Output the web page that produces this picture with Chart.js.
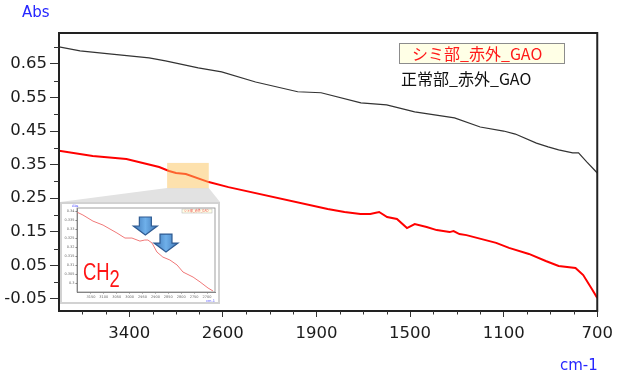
<!DOCTYPE html>
<html>
<head>
<meta charset="utf-8">
<script src="https://cdn.jsdelivr.net/npm/chart.js@4/dist/chart.umd.min.js"></script>
<style>
  html, body { margin: 0; padding: 0; background: #fff; }
  #wrap { position: relative; width: 620px; height: 372px; overflow: hidden;
          font-family: "DejaVu Sans", Verdana, sans-serif; }
  #main { position: absolute; left: 0; top: 0; }
  .unit { position: absolute; color: #2626ff; font-size: 15px; white-space: nowrap; line-height: 18px; }
  .leg { position: absolute; font-family: "Noto Sans CJK JP", sans-serif; font-size: 16px;
         white-space: nowrap; box-sizing: border-box; }
  #leg1 { left: 399px; top: 43px; width: 166px; height: 21px; line-height: 19px;
          padding-left: 12px; color: #ff1a1a; background: #ffffe6; border: 1px solid #8c8c8c; }
  #leg2 { left: 401px; top: 68px; line-height: 20px; color: #111; }
  #insetBox { position: absolute; left: 60px; top: 202px; width: 160px; height: 102px;
              box-sizing: border-box; border: 2px solid #d2d2d2; background: #fff; }
  #inset { position: absolute; left: 0; top: 0; filter: blur(0.45px); }
  #ch2 { position: absolute; left: 83px; top: 258px; color: #ff1414;
         font-family: "Liberation Sans", Arial, sans-serif; font-size: 23px; line-height: 28px;
         transform: scaleX(0.8); transform-origin: left top; white-space: nowrap; }
  #ch2 sub { font-size: 23px; vertical-align: -7px; line-height: 0; }
</style>
</head>
<body>
<div id="wrap">
  <canvas id="main" width="620" height="372"></canvas>
  <div class="unit" style="left:22px; top:3px;">Abs</div>
  <div class="unit" style="left:560px; top:356px;">cm-1</div>
  <div id="leg1" class="leg"></div>
  <div id="leg2" class="leg"></div>
  <div id="insetBox"><canvas id="inset" width="156" height="98"></canvas></div>
  <div id="ch2">CH<sub>2</sub></div>
</div>
<script>
// ---- spectra (wavenumber in cm-1, absorbance) ----
const normalLabel = '正常部_赤外_GAO';
const normalWn  = [4000, 3820, 3570, 3230, 3090, 2810, 2610, 2320, 1980, 1880, 1710, 1600, 1480,
                   1310, 1200, 1100, 1050, 960, 910, 865, 805, 780, 745, 720, 700];
const normalAbs = [0.701, 0.689, 0.680, 0.668, 0.659, 0.638, 0.626, 0.596, 0.567, 0.564, 0.534, 0.528, 0.507,
                   0.489, 0.462, 0.450, 0.441, 0.414, 0.403, 0.394, 0.385, 0.385, 0.358, 0.340, 0.325];

const stainLabel = 'シミ部_赤外_GAO';
const stainWn  = [4000, 3712, 3424, 3144, 3060, 3000, 2916, 2720, 2552, 1852, 1780, 1712, 1670, 1632,
                  1598, 1556, 1513, 1480, 1429, 1386, 1331, 1314, 1289, 1259, 1132, 1077, 992, 920,
                  865, 793, 760, 721, 700];
const stainAbs = [0.391, 0.376, 0.367, 0.343, 0.331, 0.325, 0.322, 0.298, 0.283, 0.218, 0.209, 0.203, 0.203, 0.209,
                  0.194, 0.188, 0.161, 0.173, 0.164, 0.155, 0.149, 0.152, 0.143, 0.140, 0.117, 0.102, 0.084, 0.063,
                  0.048, 0.042, 0.021, -0.023, -0.047];

// enlarged C-H stretching region of the stained spot
const detailWn  = [3204, 3181, 3142, 3103, 3049, 3018, 2991, 2960, 2941, 2929, 2913, 2894, 2871, 2844,
                   2816, 2793, 2754, 2727, 2696, 2677];
const detailAbs = [0.3394, 0.3378, 0.3344, 0.3322, 0.3278, 0.3250, 0.3250, 0.3233, 0.3239, 0.3239, 0.3222,
                   0.3172, 0.3144, 0.3128, 0.3100, 0.3061, 0.3033, 0.3006, 0.2972, 0.2956];

// CH2 band markers (wavenumber, absorbance at arrow tip)
const bandWn  = [2939, 2859];
const bandAbs = [0.3267, 0.3172];

// ---- tick labels ----
const xMajorWn  = [3400, 2600, 1900, 1500, 1100, 700];
const yMajor    = [-0.05, 0.05, 0.15, 0.25, 0.35, 0.45, 0.55, 0.65];
const yMinor    = [0, 0.1, 0.2, 0.3, 0.4, 0.5, 0.6, 0.7];
const detailXTicks = [3150, 3100, 3050, 3000, 2950, 2900, 2850, 2800, 2750, 2700];
const detailYTicks = [0.3, 0.305, 0.31, 0.315, 0.32, 0.325, 0.33, 0.335, 0.34];

// zoomed window marked on the main spectrum
const zoomWn  = [3076, 2720];
const zoomAbs = [0.355, 0.280];

// Wavenumber axis: the region above 2000 cm-1 is compressed by a factor of 2.
const BREAK = 2000;
const toAxis   = w => w > BREAK ? BREAK + (w - BREAK) / 2 : w;
const fromAxis = u => u > BREAK ? BREAK + (u - BREAK) * 2 : u;

const pts = (xs, ys, f) => xs.map((x, i) => ({ x: f ? f(x) : x, y: ys[i] }));

document.getElementById('leg1').textContent = stainLabel;
document.getElementById('leg2').textContent = normalLabel;

const tickFont = { family: '"DejaVu Sans", Verdana, sans-serif', size: 16.5 };
const INK = '#1c1c1c';

const decor = {
  id: 'decor',
  beforeDatasetsDraw(chart) {
    const { ctx, scales: { x, y } } = chart;
    const x0 = x.getPixelForValue(toAxis(zoomWn[0]));
    const x1 = x.getPixelForValue(toAxis(zoomWn[1]));
    const yb = y.getPixelForValue(zoomAbs[1]);
    const box = document.getElementById('insetBox');
    const bl = box.offsetLeft, br = box.offsetLeft + box.offsetWidth, bt = box.offsetTop;
    ctx.save();
    ctx.fillStyle = '#e2e2e2';
    ctx.beginPath();
    ctx.moveTo(x0, yb); ctx.lineTo(x1, yb); ctx.lineTo(br, bt); ctx.lineTo(bl, bt);
    ctx.closePath(); ctx.fill();
    ctx.restore();
  },
  afterDatasetsDraw(chart) {
    const { ctx, chartArea: a, scales: { x, y } } = chart;
    ctx.save();
    // highlighted window
    const x0 = x.getPixelForValue(toAxis(zoomWn[0]));
    const x1 = x.getPixelForValue(toAxis(zoomWn[1]));
    const y0 = y.getPixelForValue(zoomAbs[0]);
    const y1 = y.getPixelForValue(zoomAbs[1]);
    ctx.fillStyle = 'rgba(252, 196, 92, 0.5)';
    ctx.fillRect(x0, y0, x1 - x0, y1 - y0);
    // plot frame
    ctx.strokeStyle = '#222';
    ctx.lineWidth = 2;
    ctx.strokeRect(a.left, a.top, a.right - a.left, a.bottom - a.top);
    // minor ticks
    ctx.lineWidth = 1;
    ctx.strokeStyle = '#333';
    ctx.beginPath();
    const majorU = xMajorWn.map(toAxis);
    for (let u = 800; u < 3000; u += 100) {
      if (majorU.includes(u)) continue;
      const px = Math.round(x.getPixelForValue(u)) + 0.5;
      ctx.moveTo(px, a.bottom); ctx.lineTo(px, a.bottom + 3.5);
    }
    yMinor.forEach(v => {
      const py = Math.round(y.getPixelForValue(v)) + 0.5;
      ctx.moveTo(a.left - 5, py); ctx.lineTo(a.left, py);
    });
    ctx.stroke();
    ctx.restore();
  }
};

new Chart(document.getElementById('main'), {
  type: 'line',
  data: {
    datasets: [
      { label: normalLabel, data: pts(normalWn, normalAbs, toAxis), borderColor: '#333',
        borderWidth: 1.2, pointRadius: 0, tension: 0 },
      { label: stainLabel, data: pts(stainWn, stainAbs, toAxis), borderColor: '#ff0000',
        borderWidth: 2, pointRadius: 0, tension: 0 }
    ]
  },
  options: {
    responsive: false,
    animation: false,
    events: [],
    layout: { padding: { top: 33, right: 18, left: 0, bottom: 0 } },
    plugins: { legend: { display: false }, tooltip: { enabled: false } },
    scales: {
      x: {
        type: 'linear', reverse: true, min: 700, max: 3000,
        afterBuildTicks: s => { s.ticks = xMajorWn.map(w => ({ value: toAxis(w) })); },
        afterFit: s => { s.height = 61; },
        ticks: { callback: v => String(fromAxis(v)), font: tickFont, color: INK, padding: 7, maxRotation: 0, autoSkip: false },
        grid: { drawOnChartArea: false, tickLength: 6, tickColor: '#333', tickWidth: 1 },
        border: { color: '#222', width: 2 }
      },
      y: {
        type: 'linear', min: -0.086, max: 0.742,
        afterBuildTicks: s => { s.ticks = yMajor.map(v => ({ value: v })); },
        afterFit: s => { s.width = 59; },
        ticks: { callback: v => v.toFixed(2), font: tickFont, color: INK, padding: 3, autoSkip: false },
        grid: { drawOnChartArea: false, tickLength: 9, tickColor: '#333', tickWidth: 1 },
        border: { color: '#222', width: 2 }
      }
    }
  },
  plugins: [decor]
});

// ---- enlarged view ----
const detailDecor = {
  id: 'detailDecor',
  afterDatasetsDraw(chart) {
    const { ctx, chartArea: a, scales: { x, y } } = chart;
    ctx.save();
    ctx.strokeStyle = '#888';
    ctx.lineWidth = 0.8;
    ctx.strokeRect(a.left, a.top, a.right - a.left, a.bottom - a.top);
    // tiny legend
    ctx.fillStyle = '#ffffe8';
    ctx.fillRect(a.right - 33, a.top + 1, 30, 4);
    ctx.strokeStyle = '#b0b0b0';
    ctx.lineWidth = 0.5;
    ctx.strokeRect(a.right - 33, a.top + 1, 30, 4);
    ctx.fillStyle = '#f05050';
    ctx.font = '3px "Noto Sans CJK JP", sans-serif';
    ctx.textBaseline = 'middle';
    ctx.fillText(stainLabel, a.right - 31, a.top + 3);
    // axis units
    ctx.fillStyle = '#4a4aff';
    ctx.font = '3.5px "DejaVu Sans", sans-serif';
    ctx.textBaseline = 'top';
    ctx.fillText('Abs', a.left - 5, 0);
    ctx.textAlign = 'right';
    ctx.fillText('cm-1', a.right, a.bottom + 7);
    // CH2 band arrows
    bandWn.forEach((w, i) => {
      const tx = x.getPixelForValue(w);
      const ty = y.getPixelForValue(bandAbs[i]);
      const g = ctx.createLinearGradient(tx - 12, 0, tx + 12, 0);
      g.addColorStop(0, '#3d74b4'); g.addColorStop(0.5, '#6fb0ea'); g.addColorStop(1, '#3d74b4');
      ctx.fillStyle = g;
      ctx.strokeStyle = '#2f5b92';
      ctx.lineWidth = 1.2;
      ctx.beginPath();
      ctx.moveTo(tx - 6, ty - 18); ctx.lineTo(tx + 6, ty - 18); ctx.lineTo(tx + 6, ty - 9);
      ctx.lineTo(tx + 12, ty - 9); ctx.lineTo(tx, ty); ctx.lineTo(tx - 12, ty - 9);
      ctx.lineTo(tx - 6, ty - 9); ctx.closePath();
      ctx.fill(); ctx.stroke();
    });
    ctx.restore();
  }
};

const tinyFont = { family: '"DejaVu Sans", sans-serif', size: 3.5 };
new Chart(document.getElementById('inset'), {
  type: 'line',
  data: {
    datasets: [
      { label: stainLabel, data: pts(detailWn, detailAbs), borderColor: '#f07878',
        borderWidth: 1, pointRadius: 0, tension: 0 }
    ]
  },
  options: {
    responsive: false,
    animation: false,
    events: [],
    layout: { padding: { top: 4, right: 3, left: 0, bottom: 0 } },
    plugins: { legend: { display: false }, tooltip: { enabled: false } },
    scales: {
      x: {
        type: 'linear', reverse: true, min: 2669, max: 3204,
        afterBuildTicks: s => { s.ticks = detailXTicks.map(v => ({ value: v })); },
        afterFit: s => { s.height = 10; },
        ticks: { callback: v => String(v), font: tinyFont, color: '#666', padding: 1, maxRotation: 0, autoSkip: false },
        grid: { drawOnChartArea: false, tickLength: 1.5, tickColor: '#777' },
        border: { color: '#666', width: 0.8 }
      },
      y: {
        type: 'linear', min: 0.295, max: 0.3417,
        afterBuildTicks: s => { s.ticks = detailYTicks.map(v => ({ value: v })); },
        afterFit: s => { s.width = 15; },
        ticks: { callback: v => String(parseFloat(v.toFixed(3))), font: tinyFont, color: '#666', padding: 1, autoSkip: false },
        grid: { drawOnChartArea: false, tickLength: 1.5, tickColor: '#777' },
        border: { color: '#666', width: 0.8 }
      }
    }
  },
  plugins: [detailDecor]
});
</script>
</body>
</html>
